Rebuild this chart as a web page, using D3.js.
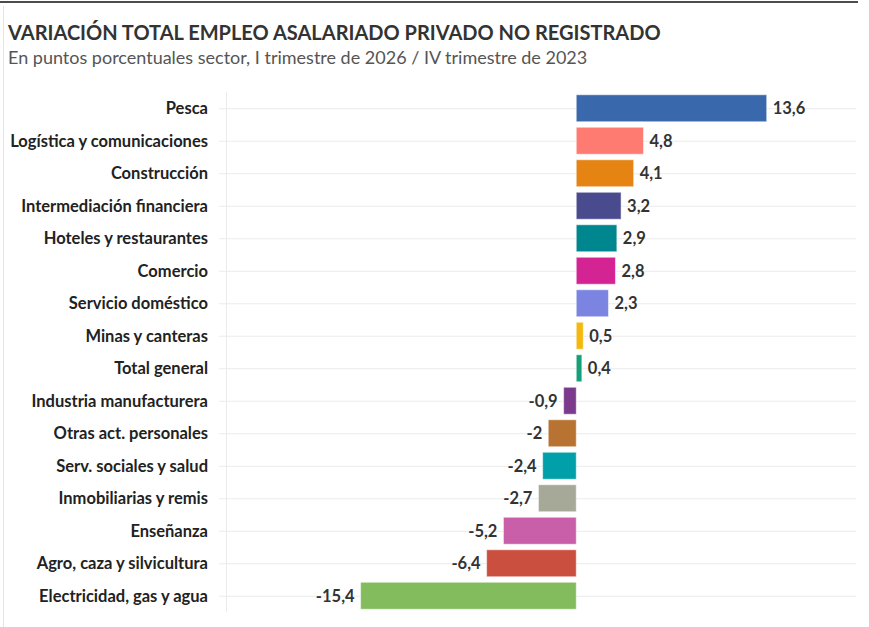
<!DOCTYPE html>
<html>
<head>
<meta charset="utf-8">
<script src="https://cdn.jsdelivr.net/npm/d3@7"></script>
<style>
  body { margin: 0; background: #fff; }
  text { font-family: "Source Sans Pro", Lato, "Open Sans", sans-serif; }
</style>
</head>
<body>
<svg id="chart" width="869" height="627"></svg>
<script>
// data
var sectors = ["Pesca", "Logística y comunicaciones", "Construcción", "Intermediación financiera",
  "Hoteles y restaurantes", "Comercio", "Servicio doméstico", "Minas y canteras", "Total general",
  "Industria manufacturera", "Otras act. personales", "Serv. sociales y salud",
  "Inmobiliarias y remis", "Enseñanza", "Agro, caza y silvicultura", "Electricidad, gas y agua"];
var values = [13.6, 4.8, 4.1, 3.2, 2.9, 2.8, 2.3, 0.5, 0.4, -0.9, -2, -2.4, -2.7, -5.2, -6.4, -15.4];
var colors = ["#3a68ad", "#fd7b71", "#e58413", "#4a4a8e", "#00868f", "#d42493", "#7b84e0",
  "#f5b80c", "#14a078", "#7b3a8c", "#b87333", "#00a0aa", "#a6a998", "#c95fa8", "#cb4f3f", "#82bc5c"];

var title = "VARIACIÓN TOTAL EMPLEO ASALARIADO PRIVADO NO REGISTRADO";
var subtitle = "En puntos porcentuales sector, I trimestre de 2026 / IV trimestre de 2023";

var svg = d3.select("#chart");

// frame lines
svg.append("line").attr("x1", 0).attr("x2", 858).attr("y1", 2).attr("y2", 2)
  .attr("stroke", "#111").attr("stroke-width", 1.5);
svg.append("line").attr("x1", 3.5).attr("x2", 3.5).attr("y1", 6).attr("y2", 627)
  .attr("stroke", "#e4e4e4").attr("stroke-width", 1);

svg.append("text").text(title)
  .attr("x", 8).attr("y", 40)
  .style("font-size", "20px").style("font-weight", 700).style("fill", "#333");
svg.append("text").text(subtitle)
  .attr("x", 8).attr("y", 64)
  .style("font-size", "18px").style("fill", "#555");

var x = d3.scaleLinear().domain([-15.4, 13.6]).range([360.6, 766.7]);
var y = d3.scaleBand().domain(sectors).range([92, 612]).paddingInner(0.17).paddingOuter(0.085);

var g = svg.append("g");

// gridlines
g.selectAll("line.grid").data(sectors).enter().append("line")
  .attr("class", "grid")
  .attr("x1", 219).attr("x2", 856)
  .attr("y1", d => y(d) + y.bandwidth() / 2 + 0.5)
  .attr("y2", d => y(d) + y.bandwidth() / 2 + 0.5)
  .attr("stroke", "#ebebeb");
g.append("line")
  .attr("x1", 226.5).attr("x2", 226.5).attr("y1", 92).attr("y2", 612)
  .attr("stroke", "#ebebeb");

// category labels
g.selectAll("text.cat").data(sectors).enter().append("text")
  .attr("class", "cat")
  .attr("x", 208)
  .attr("y", d => y(d) + y.bandwidth() / 2)
  .attr("dy", "0.35em")
  .attr("text-anchor", "end")
  .style("font-size", "16.5px").style("font-weight", 700).style("fill", "#222")
  .text(d => d);

// bars
g.selectAll("rect.bar").data(values).enter().append("rect")
  .attr("class", "bar")
  .attr("x", d => x(Math.min(0, d)))
  .attr("width", d => Math.abs(x(d) - x(0)))
  .attr("y", (d, i) => y(sectors[i]))
  .attr("height", y.bandwidth())
  .attr("fill", (d, i) => colors[i])
  .attr("stroke", "rgba(255,255,255,0.5)");

// value labels
var fmt = v => String(v).replace(".", ",");
g.selectAll("text.val").data(values).enter().append("text")
  .attr("class", "val")
  .attr("x", d => d >= 0 ? x(d) + 6 : x(d) - 6)
  .attr("y", (d, i) => y(sectors[i]) + y.bandwidth() / 2)
  .attr("dy", "0.35em")
  .attr("text-anchor", d => d >= 0 ? "start" : "end")
  .style("font-size", "16.5px").style("font-weight", 700).style("fill", "#333")
  .text(d => fmt(d));
</script>
</body>
</html>
